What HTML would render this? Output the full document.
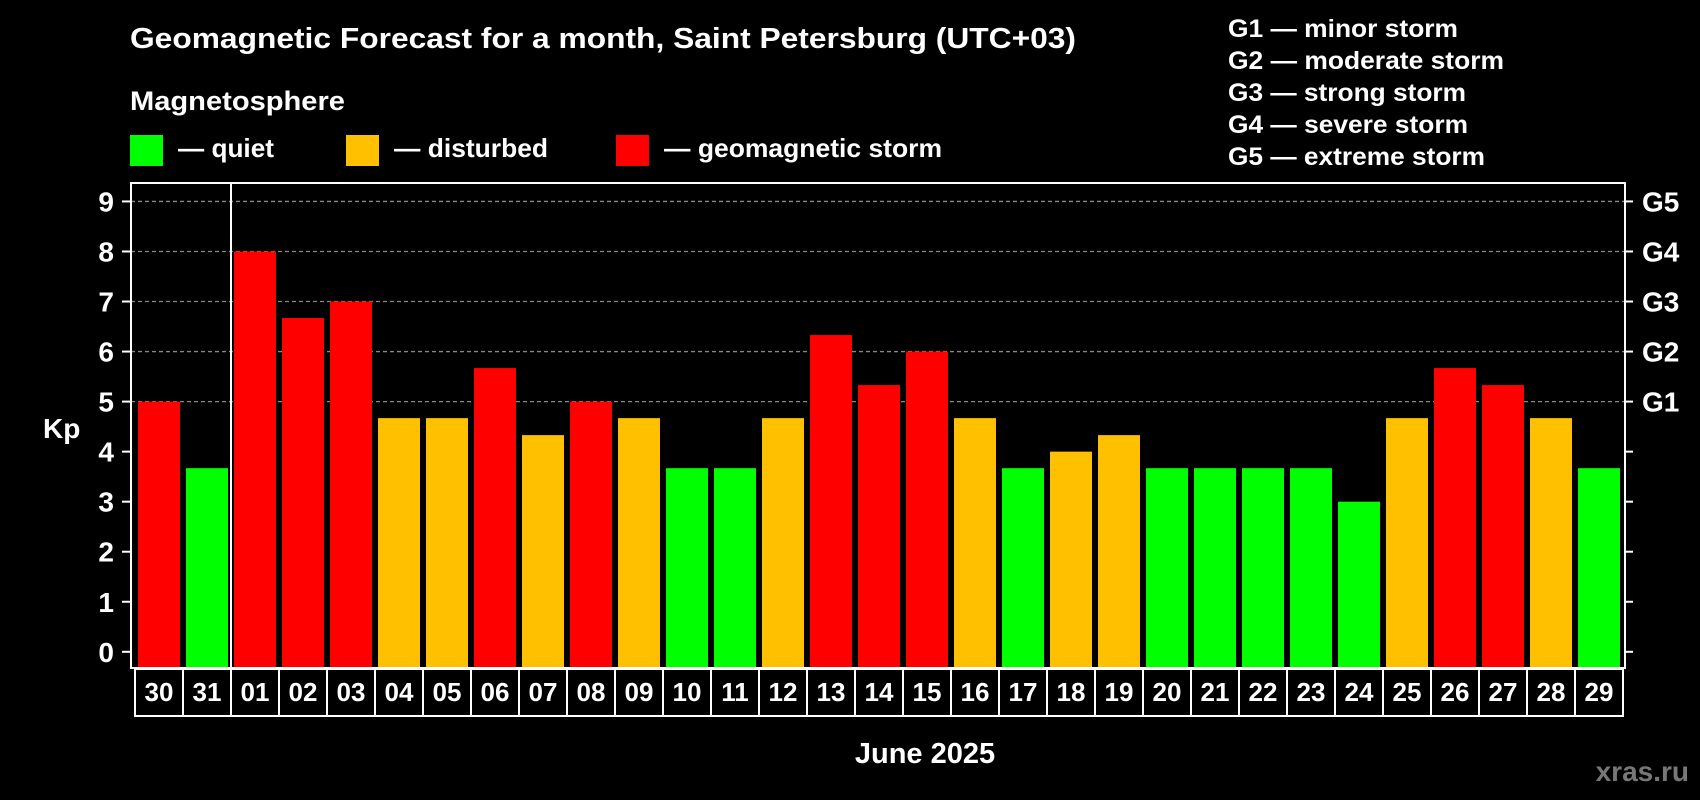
<!DOCTYPE html>
<html><head><meta charset="utf-8"><style>
html,body{margin:0;padding:0;background:#000;}
svg{display:block;font-family:"Liberation Sans",Arial,sans-serif;font-weight:bold;}
</style></head><body>
<svg id="chart" width="1700" height="800" viewBox="0 0 1700 800" xmlns="http://www.w3.org/2000/svg">
<rect x="0" y="0" width="1700" height="800" fill="#000"/>
<text x="130" y="48" font-size="29" fill="#fff" textLength="946" lengthAdjust="spacingAndGlyphs">Geomagnetic Forecast for a month, Saint Petersburg (UTC+03)</text>
<text x="130" y="110" font-size="27" fill="#fff" textLength="215" lengthAdjust="spacingAndGlyphs">Magnetosphere</text>
<g>
<rect x="130" y="135" width="33" height="31" fill="#00ff00"/>
<text x="178" y="157" font-size="26" fill="#fff" textLength="96" lengthAdjust="spacingAndGlyphs">— quiet</text>
<rect x="346" y="135" width="33" height="31" fill="#ffc000"/>
<text x="394" y="157" font-size="26" fill="#fff" textLength="154" lengthAdjust="spacingAndGlyphs">— disturbed</text>
<rect x="616" y="135" width="33" height="31" fill="#ff0000"/>
<text x="664" y="157" font-size="26" fill="#fff" textLength="278" lengthAdjust="spacingAndGlyphs">— geomagnetic storm</text>
</g>
<g font-size="25" fill="#fff">
<text x="1228" y="37" textLength="230" lengthAdjust="spacingAndGlyphs">G1 — minor storm</text>
<text x="1228" y="69" textLength="276" lengthAdjust="spacingAndGlyphs">G2 — moderate storm</text>
<text x="1228" y="101" textLength="238" lengthAdjust="spacingAndGlyphs">G3 — strong storm</text>
<text x="1228" y="133" textLength="240" lengthAdjust="spacingAndGlyphs">G4 — severe storm</text>
<text x="1228" y="165" textLength="257" lengthAdjust="spacingAndGlyphs">G5 — extreme storm</text>
</g>
<text x="43" y="438" font-size="28" fill="#fff">Kp</text>
<g id="plot"></g>
<text x="925" y="763" font-size="29" fill="#fff" text-anchor="middle">June 2025</text>
<text x="1689" y="781" font-size="28" fill="#777" text-anchor="end">xras.ru</text>
</svg>
<script>
const days = ["30","31","01","02","03","04","05","06","07","08","09","10","11","12","13","14","15","16","17","18","19","20","21","22","23","24","25","26","27","28","29"];
const kpValues = [5,3.67,8,6.67,7,4.67,4.67,5.67,4.33,5,4.67,3.67,3.67,4.67,6.33,5.33,6,4.67,3.67,4,4.33,3.67,3.67,3.67,3.67,3,4.67,5.67,5.33,4.67,3.67];
const levels = ["storm","quiet","storm","storm","storm","dist","dist","storm","dist","storm","dist","quiet","quiet","dist","storm","storm","storm","dist","quiet","dist","dist","quiet","quiet","quiet","quiet","quiet","dist","storm","storm","dist","quiet"];
const yTicks = [0,1,2,3,4,5,6,7,8,9];
const gLabels = ["G1","G2","G3","G4","G5"];
const gKp = [5,6,7,8,9];

const NS="http://www.w3.org/2000/svg";
const plot=document.getElementById('plot');
const L=131,R=1625,T=183,B=668;
const y0=651.8,unit=50.04;
function yScale(v){return y0-v*unit;}
function xScale(i){return 138+i*48;}
const colors={storm:"#ff0000",dist:"#ffc000",quiet:"#00ff00"};
function mk(tag,attrs){const e=document.createElementNS(NS,tag);for(const k in attrs)e.setAttribute(k,attrs[k]);plot.appendChild(e);return e;}

gKp.forEach(v=>{
  const g=mk('line',{x1:L,x2:R,y1:yScale(v),y2:yScale(v),stroke:"#888","stroke-width":1.3,"stroke-dasharray":"4,3"});
  
  
});
kpValues.forEach((v,i)=>{
  const top=yScale(v);
  const r=mk('rect',{x:xScale(i),y:top,width:42,height:B-top,fill:colors[levels[i]]});
  
  
});
const f=mk('rect',{x:L,y:T,width:R-L,height:B-T,fill:"none",stroke:"#fff","stroke-width":2});


const sep=mk('line',{x1:231,x2:231,y1:T,y2:B,stroke:"#fff","stroke-width":2});


yTicks.forEach(v=>{
  const y=yScale(v);
  const t1=mk('line',{x1:122,x2:L,y1:y,y2:y,stroke:"#fff","stroke-width":2});
  
  
  const t2=mk('line',{x1:R,x2:1633,y1:y,y2:y,stroke:"#fff","stroke-width":2});
  
  
  const tx=mk('text',{x:114,y:y+10,"font-size":28,fill:"#fff","text-anchor":"end"});
  tx.textContent=String(v);
  
  
});
gLabels.forEach((g,i)=>{
  const tx=mk('text',{x:1642,y:yScale(gKp[i])+10,"font-size":28,fill:"#fff"});
  tx.textContent=g;
  
  
});
days.forEach((d,i)=>{
  const bx=135+i*48;
  const r=mk('rect',{x:bx,y:669,width:48,height:47,fill:"#000",stroke:"#fff","stroke-width":2});
  
  
  const tx=mk('text',{x:bx+24,y:701,"font-size":26,fill:"#fff","text-anchor":"middle"});
  tx.textContent=d;
  
  
});
</script>
</body></html>
